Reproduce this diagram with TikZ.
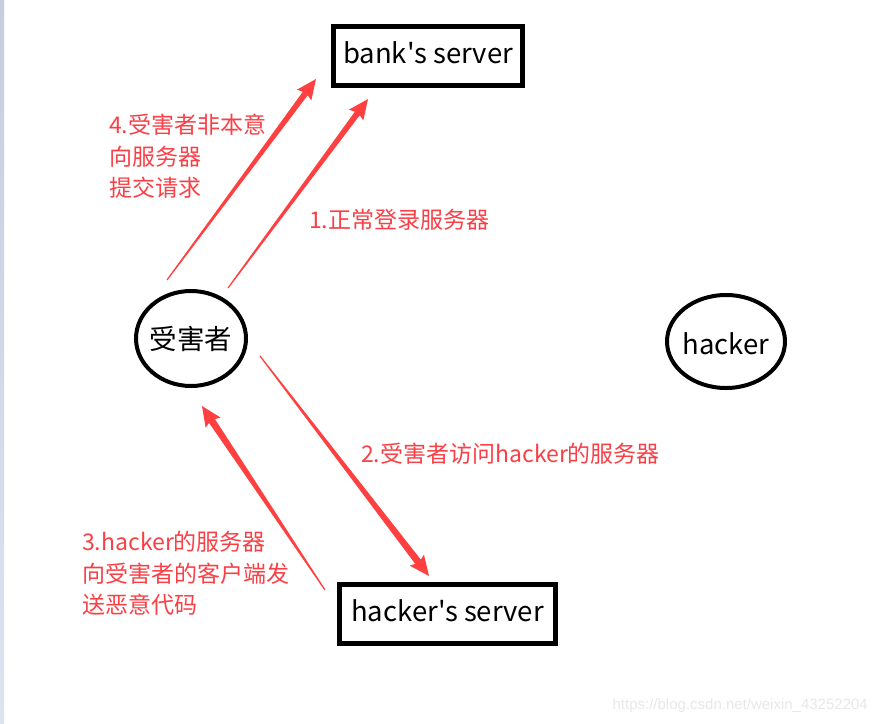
\documentclass[tikz,border=0pt]{standalone}
\usepackage{fontspec}
\setmainfont{Noto Sans CJK SC}
\newfontfamily\boxfont{Noto Sans CJK SC}[Ligatures=TeXOff]
\newfontfamily\wmfont{Liberation Sans}
\usetikzlibrary{calc,shapes.geometric}
\definecolor{arrred}{RGB}{255,64,64}
\definecolor{txtred}{RGB}{250,64,70}
\newcommand{\taperarrow}[5]{% tail, head, tailhalfw, shafthalfw, headlength
  \fill[arrred]
    ($(#1)!#3!90:(#2)$) --
    ($($(#2)!#5!(#1)$)!#4!90:(#2)$) --
    ($($(#2)!#5+2pt!(#1)$)!9pt!90:(#2)$) --
    (#2) --
    ($($(#2)!#5+2pt!(#1)$)!9pt!-90:(#2)$) --
    ($($(#2)!#5!(#1)$)!#4!-90:(#2)$) --
    ($(#1)!#3!-90:(#2)$) -- cycle;}
\tikzset{
  box/.style={draw=black, line width=5pt, minimum height=59pt, inner sep=0pt, text height=21pt, text depth=6pt, font=\boxfont\fontsize{27.5}{30}\selectfont},
  oval/.style={draw=black, ellipse, line width=4pt, inner sep=0pt, inner xsep=-12pt, inner ysep=-4pt, font=\boxfont\fontsize{27.5}{30}\selectfont},
  lbl/.style={text=txtred, align=left, inner sep=0pt, anchor=north west, font=\fontsize{23}{31.5}\selectfont}
}
\begin{document}
\begin{tikzpicture}[x=1pt,y=-1pt]
\useasboundingbox (0,0) rectangle (878,723);
\fill[white] (0,0) rectangle (878,723);
\shade[top color={rgb,255:red,197;green,206;blue,224}, bottom color={rgb,255:red,220;green,228;blue,240}] (0,0) rectangle (4,723);
% nodes
\node[box, minimum width=189pt] (bank) at (428,56) {bank's server};
\node[box, minimum width=216pt] (hserv) at (447.5,614) {hacker's server};
\node[oval, minimum width=110pt, minimum height=95pt] (victim) at (191,338.5) {受害者};
\node[oval, minimum width=118pt, minimum height=93pt, text height=28pt, text depth=3pt] (hacker) at (726,341.5) {hacker};
% arrow endpoints
\coordinate (a4t) at (167,280); \coordinate (a4h) at (316,79);
\coordinate (a1t) at (228,288); \coordinate (a1h) at (368,99);
\coordinate (a2t) at (260,356); \coordinate (a2h) at (429,576);
\coordinate (a3t) at (325,590); \coordinate (a3h) at (202,406);
\taperarrow{a4t}{a4h}{0.6pt}{3pt}{18pt}
\taperarrow{a1t}{a1h}{0.6pt}{3pt}{18pt}
\taperarrow{a2t}{a2h}{0.6pt}{3.5pt}{18pt}
\taperarrow{a3t}{a3h}{0.6pt}{3.5pt}{18pt}
% labels
\node[lbl] (l4) at (109,114) {4.受害者非本意\\向服务器\\提交请求};
\node[lbl] (l1) at (309,209) {1.正常登录服务器};
\node[lbl] (l2) at (361,443) {2.受害者访问hacker的服务器};
\node[lbl] (l3) at (82,531) {3.hacker的服务器\\向受害者的客户端发\\送恶意代码};
\node[text={rgb,255:red,232;green,232;blue,232}, anchor=east, inner sep=0pt, font=\wmfont\fontsize{15}{18}\selectfont] (wm) at (868,706) {https://blog.csdn.net/weixin\_43252204};
\end{tikzpicture}
\end{document}
